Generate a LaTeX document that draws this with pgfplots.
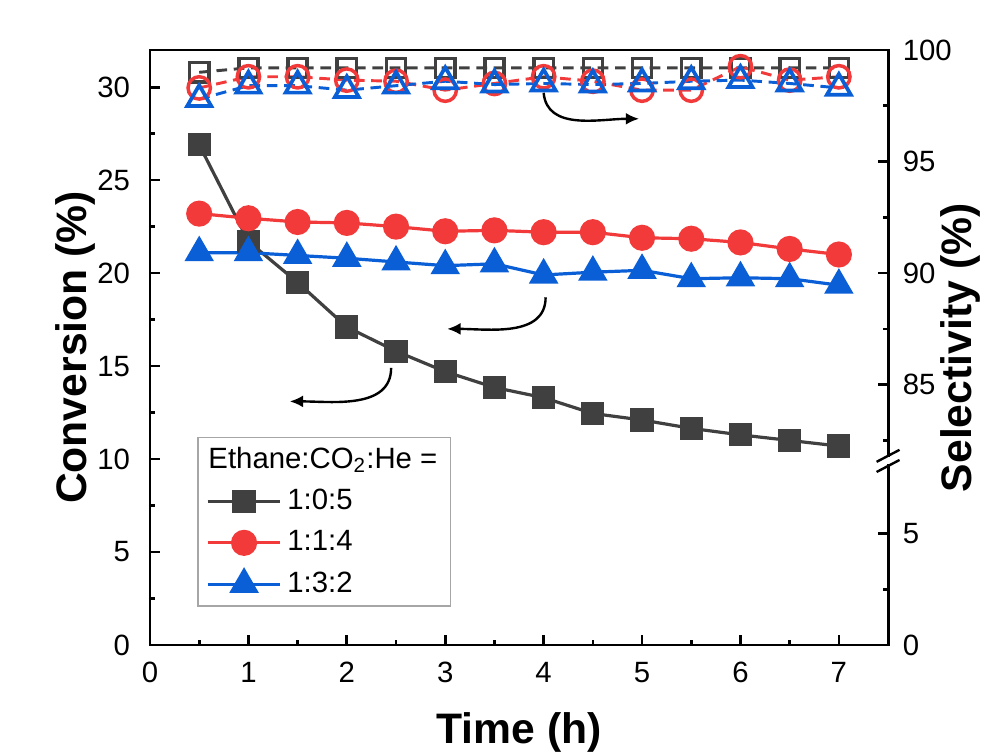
\documentclass[border=0pt]{standalone}
\usepackage{fontspec}
\setmainfont{Liberation Sans}
\usepackage{pgfplots}
\pgfplotsset{compat=1.18}
\usetikzlibrary{arrows.meta}

\definecolor{cblk}{HTML}{404040}
\definecolor{cred}{HTML}{F23A3A}
\definecolor{cblu}{HTML}{0B5FD6}

\pgfplotstableread{
x y
0.5 26.9
1.0 21.7
1.5 19.5
2.0 17.1
2.5 15.8
3.0 14.7
3.5 13.85
4.0 13.3
4.5 12.45
5.0 12.1
5.5 11.65
6.0 11.3
6.5 11.0
7.0 10.7
}\convA
\pgfplotstableread{
x y
0.5 23.2
1.0 22.95
1.5 22.75
2.0 22.7
2.5 22.5
3.0 22.25
3.5 22.3
4.0 22.2
4.5 22.2
5.0 21.9
5.5 21.85
6.0 21.65
6.5 21.3
7.0 21.0
}\convB
\pgfplotstableread{
x y
0.5 21.1
1.0 21.1
1.5 20.95
2.0 20.8
2.5 20.6
3.0 20.4
3.5 20.5
4.0 19.9
4.5 20.05
5.0 20.15
5.5 19.7
6.0 19.75
6.5 19.7
7.0 19.35
}\convC
\pgfplotstableread{
x y
0.5 99.0
1.0 99.2
1.5 99.2
2.0 99.2
2.5 99.2
3.0 99.2
3.5 99.2
4.0 99.2
4.5 99.2
5.0 99.2
5.5 99.2
6.0 99.2
6.5 99.2
7.0 99.2
}\selA
\pgfplotstableread{
x y
0.5 98.3
1.0 98.8
1.5 98.8
2.0 98.65
2.5 98.6
3.0 98.2
3.5 98.5
4.0 98.8
4.5 98.6
5.0 98.2
5.5 98.2
6.0 99.25
6.5 98.65
7.0 98.8
}\selB
\pgfplotstableread{
x y
0.5 97.8
1.0 98.4
1.5 98.4
2.0 98.2
2.5 98.4
3.0 98.6
3.5 98.45
4.0 98.5
4.5 98.45
5.0 98.5
5.5 98.6
6.0 98.65
6.5 98.5
7.0 98.3
}\selC

\pgfplotsset{
  common/.style={
    scale only axis, width=276.75pt, height=223.1pt,
    xmin=0, xmax=7.5, ymin=0, ymax=32,
    tick align=inside,
    major tick length=3.75pt, minor tick length=2pt,
    every tick/.style={line width=1pt, black},
    axis line style={line width=1.1pt},
    tick label style={font=\fontsize{11}{13}\selectfont},
    /pgf/number format/assume math mode=true,
    clip=false,
  },
  seltrafo/.style={y filter/.expression={1.2*y-88}},
}

\begin{document}
\begin{tikzpicture}
\begin{axis}[common, name=ax,
  xtick pos=bottom, ytick pos=left,
  xtick={0,1,...,7}, minor xtick={0.5,1.5,...,6.5},
  ytick={0,5,...,30}, minor ytick={2.5,7.5,...,27.5},
  xticklabel style={yshift=-3pt},
  yticklabel style={xshift=-4pt},
  xlabel={Time (h)},
  ylabel={Conversion (\%)},
  every axis x label/.style={at={(axis description cs:0.5,-0.112)}, anchor=north, inner sep=0pt, font=\fontsize{16}{19}\selectfont\bfseries},
  every axis y label/.style={at={(axis description cs:-0.073,0.5)}, rotate=90, anchor=south, inner sep=0pt, font=\fontsize{16}{19}\selectfont\bfseries},
  legend style={at={(rel axis cs:0.064,0.35)}, anchor=north west, draw=gray!70, line width=0.6pt,
    font=\fontsize{11}{13}\selectfont, row sep=2.4pt, inner xsep=3pt, inner ysep=1.5pt},
  legend cell align=left,
  legend image code/.code={\draw[mark repeat=2,mark phase=2,#1] plot coordinates {(0cm,0cm) (0.48cm,0cm) (0.96cm,0cm)};},
]
\addlegendimage{empty legend}
\addlegendentry{\hspace*{-29.6pt}Ethane:CO\textsubscript{2}:He =}
% selectivity (open, dashed)
\addplot[cblk, line width=1.1pt, dash pattern=on 4pt off 2.5pt, mark=square, mark size=3.6pt, mark options={solid, line width=1.3pt}, seltrafo, forget plot] table {\selA};
\addplot[cred, line width=1.1pt, dash pattern=on 4pt off 2.5pt, mark=o, mark size=4.2pt, mark options={solid, line width=1.3pt}, seltrafo, forget plot] table {\selB};
\addplot[cblu, line width=1.1pt, dash pattern=on 4pt off 2.5pt, mark=triangle, mark size=5.2pt, mark options={solid, line width=1.4pt}, seltrafo, forget plot] table {\selC};
% conversion (filled, solid)
\addplot[cblk, line width=1.2pt, mark=square*, mark size=3.75pt, mark options={solid, fill=cblk}] table {\convA};
\addlegendentry{1:0:5}
\addplot[cred, line width=1.2pt, mark=*, mark size=4.3pt, mark options={solid, fill=cred}] table {\convB};
\addlegendentry{1:1:4}
\addplot[cblu, line width=1.2pt, mark=triangle*, mark size=5.2pt, mark options={solid, fill=cblu}] table {\convC};
\addlegendentry{1:3:2}
% arrows
\draw[line width=0.9pt, -{Latex[length=5pt,width=4.5pt]}] (axis cs:4.0,29.7) to[out=-85,in=180] (axis cs:4.97,28.3);
\draw[line width=0.9pt, -{Latex[length=5pt,width=4.5pt]}] (axis cs:4.02,18.7) to[out=-90,in=0] (axis cs:3.02,17.0);
\draw[line width=0.9pt, -{Latex[length=5pt,width=4.5pt]}] (axis cs:2.45,14.9) to[out=-90,in=0] (axis cs:1.42,13.1);
\end{axis}
\begin{axis}[common,
  axis x line=none, axis y line*=right,
  ytick={0,6,14,20,26,32}, yticklabels={0,5,85,90,95,100},
  minor ytick={3,11,17,23,29},
  yticklabel style={xshift=2pt},
  ylabel={Selectivity (\%)},
  every axis y label/.style={at={(axis description cs:1.071,0.5)}, rotate=90, anchor=north, inner sep=0pt, font=\fontsize{16}{19}\selectfont\bfseries},
]
\addplot[draw=none, forget plot] coordinates {(0,0)};
\begin{scope}[shift={(axis cs:7.5,9.9)}]
  \fill[white] (-1.2pt,-1.3pt) rectangle (1.2pt,1.3pt);
  \draw[line width=0.9pt] (-4.3pt,-4.15pt) -- (4.3pt,0.35pt);
  \draw[line width=0.9pt] (-4.3pt,-0.35pt) -- (4.3pt,4.15pt);
\end{scope}
\end{axis}
\pgfresetboundingbox
\path[use as bounding box] ([xshift=-56.25pt,yshift=-40.1pt]ax.south west) rectangle ([xshift=35.6pt,yshift=18.75pt]ax.north east);
\end{tikzpicture}
\end{document}
